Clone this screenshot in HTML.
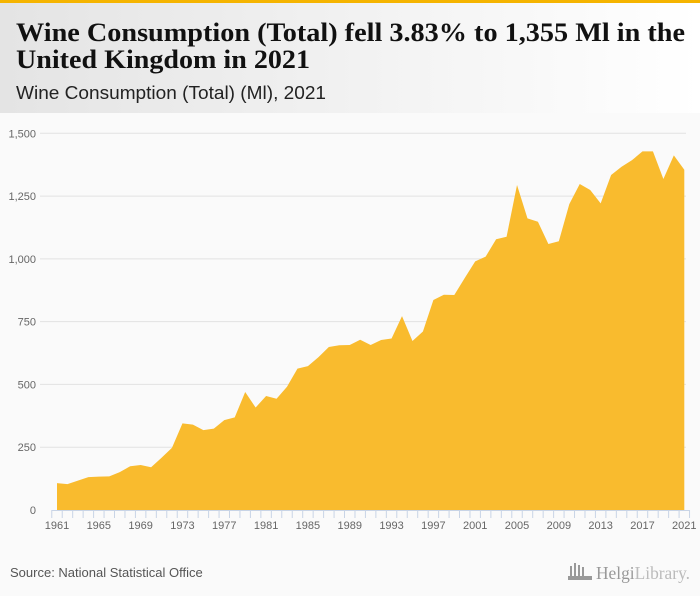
<!DOCTYPE html>
<html><head><meta charset="utf-8"><style>
html,body{margin:0;padding:0;background:#fafafa;}
svg{display:block;font-family:"Liberation Sans",sans-serif;}
</style></head><body>
<svg width="700" height="596" viewBox="0 0 700 596">
<defs><linearGradient id="hg" x1="0" x2="1" y1="0" y2="0"><stop offset="0" stop-color="#e4e4e4"/><stop offset="1" stop-color="#ffffff"/></linearGradient></defs>
<rect x="0" y="0" width="700" height="596" fill="#fafafa"/>
<rect x="0" y="0" width="700" height="113" fill="url(#hg)"/>
<rect x="0" y="0" width="700" height="3" fill="#f5b400"/>
<text x="16" y="41" font-family="Liberation Serif, serif" font-weight="bold" font-size="26" fill="#111" textLength="669" lengthAdjust="spacingAndGlyphs">Wine Consumption (Total) fell 3.83% to 1,355 Ml in the</text>
<text x="16" y="68" font-family="Liberation Serif, serif" font-weight="bold" font-size="26" fill="#111" textLength="294" lengthAdjust="spacingAndGlyphs">United Kingdom in 2021</text>
<text x="16" y="99" font-size="18" fill="#222" textLength="310" lengthAdjust="spacingAndGlyphs">Wine Consumption (Total) (Ml), 2021</text>
<g id="grid"></g>
<g id="ylabels"></g>
<path id="area" fill="#f9bb2e"/>
<g id="xaxis"></g>
<text x="10" y="577" font-size="13" fill="#555">Source: National Statistical Office</text>
<g fill="#999">
<rect x="570" y="566" width="2" height="10"/><rect x="574" y="563" width="2" height="13"/><rect x="578" y="565" width="2" height="11"/><rect x="582" y="567" width="2" height="9"/><rect x="568" y="576" width="24" height="4"/>
<text x="596" y="579" font-family="Liberation Serif, serif" font-size="18" fill="#999" textLength="94" lengthAdjust="spacingAndGlyphs">Helgi<tspan font-weight="normal" fill="#bbb">Library.</tspan></text>
</g>
</svg>
<script>
const years = [];
for (let y = 1961; y <= 2021; y++) years.push(y);
const values = [107,103,117,131,133,134,151,174,179,170,208,248,345,340,318,324,358,369,470,408,454,443,491,563,573,608,649,656,657,678,657,677,683,772,673,711,836,857,856,924,990,1009,1078,1088,1294,1161,1148,1059,1070,1218,1298,1274,1221,1334,1367,1393,1428,1428,1318,1412,1355];
const yTicks = [0,250,500,750,1000,1250,1500];
const yTickLabels = ["0","250","500","750","1,000","1,250","1,500"];
const xLabelYears = [1961,1965,1969,1973,1977,1981,1985,1989,1993,1997,2001,2005,2009,2013,2017,2021];

const NS = "http://www.w3.org/2000/svg";
const x0 = 57, x1 = 684.3, yBase = 510, yTop = 133.3;
function xs(yr){ return x0 + (yr - years[0]) * (x1 - x0) / (years[years.length-1] - years[0]); }
function ys(v){ return yBase - v * (yBase - yTop) / 1500; }
const step = (x1 - x0) / (years.length - 1);

const grid = document.getElementById('grid');
const yl = document.getElementById('ylabels');
yTicks.forEach((t,i)=>{
  if (t > 0) {
    const l = document.createElementNS(NS,'line');
    
    
    l.setAttribute('x1',40); l.setAttribute('x2',686);
    l.setAttribute('y1',ys(t)); l.setAttribute('y2',ys(t));
    l.setAttribute('stroke','#e2e2e2'); l.setAttribute('stroke-width','1');
    grid.appendChild(l);
  }
  const tx = document.createElementNS(NS,'text');
  
  
  tx.setAttribute('x',36); tx.setAttribute('y',ys(t)+4);
  tx.setAttribute('text-anchor','end'); tx.setAttribute('font-size','11'); tx.setAttribute('fill','#666');
  tx.textContent = yTickLabels[i];
  yl.appendChild(tx);
});

let d = 'M' + xs(years[0]) + ',' + yBase;
years.forEach((yr,i)=>{ d += ' L' + xs(yr) + ',' + ys(values[i]); });
d += ' L' + xs(years[years.length-1]) + ',' + yBase + ' Z';
document.getElementById('area').setAttribute('d', d);

const xa = document.getElementById('xaxis');
const al = document.createElementNS(NS,'line');


al.setAttribute('x1',x0-step/2); al.setAttribute('x2',x1+step/2);
al.setAttribute('y1',yBase+0.5); al.setAttribute('y2',yBase+0.5);
al.setAttribute('stroke','#c8d4e6'); xa.appendChild(al);
for (let i = 0; i <= years.length; i++) {
  const tk = document.createElementNS(NS,'line');
  
  
  const tx = x0 - step/2 + i*step;
  tk.setAttribute('x1',tx); tk.setAttribute('x2',tx);
  tk.setAttribute('y1',yBase); tk.setAttribute('y2',yBase+8);
  tk.setAttribute('stroke','#c8d4e6'); xa.appendChild(tk);
}
xLabelYears.forEach(yr=>{
  const t = document.createElementNS(NS,'text');
  
  
  t.setAttribute('x',xs(yr)); t.setAttribute('y',529);
  t.setAttribute('text-anchor','middle'); t.setAttribute('font-size','11'); t.setAttribute('fill','#666');
  t.textContent = yr;
  xa.appendChild(t);
});
</script>
</body></html>
